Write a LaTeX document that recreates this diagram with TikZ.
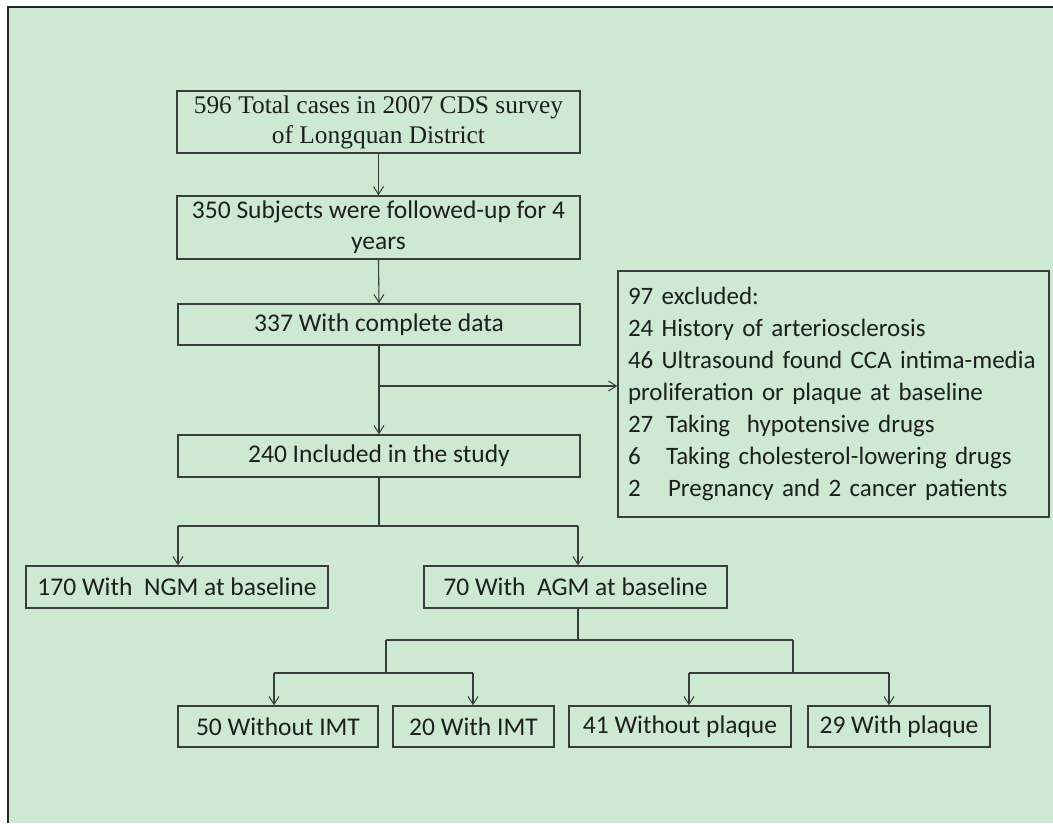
\documentclass[tikz,border=0pt]{standalone}
\usepackage{fontspec}
\setmainfont{Liberation Serif}
\newfontfamily\calib{Carlito}
\usetikzlibrary{arrows.meta}
\definecolor{bggreen}{RGB}{205,233,210}
\definecolor{linegray}{RGB}{60,60,60}
\definecolor{txtgray}{RGB}{30,30,30}
\tikzset{
  box/.style={draw=linegray, line width=1.3pt, rectangle, inner sep=0pt, align=center,
    text=txtgray, font=\calib\fontsize{25.5}{31}\selectfont},
  conn/.style={draw=linegray, line width=1.1pt},
  arr/.style={conn, -{Straight Barb[length=8pt,width=10pt,line width=1pt]}}
}
\begin{document}
\begin{tikzpicture}[x=1pt,y=-1pt]
\useasboundingbox (0,0) rectangle (1053,823);
\fill[white] (0,0) rectangle (1053,823);
\fill[bggreen] (8,7) rectangle (1053,823);
\draw[line width=2pt, black!85] (8,823) -- (8,7) -- (1053,7);

\node[box, minimum width=403pt, minimum height=62pt, font=\rmfamily\fontsize{25.4}{30}\selectfont] (b1) at (378.5,122)
  {596 Total cases in 2007 CDS survey\\of Longquan District};
\node[box, minimum width=403pt, minimum height=63pt] (b2) at (378.5,227.5)
  {350 Subjects were followed-up for 4\\years};
\node[box, minimum width=402pt, minimum height=41pt] (b3) at (379,324.5) {337 With complete data};
\node[box, minimum width=402pt, minimum height=42pt] (b4) at (379,456) {240 Included in the study};

\node[box, minimum width=431pt, minimum height=246pt, text width=411pt, inner xsep=10pt, align=left,
  font=\calib\fontsize{25}{32}\selectfont] (ex) at (833.5,394)
  {97 excluded:\\
   24 History of arteriosclerosis\\
   46 Ultrasound found CCA intima-media\\
   proliferation or plaque at baseline\\
   \makebox[38pt][l]{27}Taking\ \ hypotensive drugs\\
   \makebox[38pt][l]{6}Taking cholesterol-lowering drugs\\
   \makebox[40pt][l]{2}Pregnancy and 2 cancer patients};

\node[box, minimum width=302pt, minimum height=42pt] (ngm) at (177,587) {170 With\ \ NGM at baseline};
\node[box, minimum width=303pt, minimum height=42pt] (agm) at (575.5,587) {70 With\ \ AGM at baseline};

\node[box, minimum width=200pt, minimum height=41pt] (i1) at (278,726.5) {50 Without IMT};
\node[box, minimum width=161pt, minimum height=41pt] (i2) at (473.5,726.5) {20 With IMT};
\node[box, minimum width=222pt, minimum height=41pt] (p1) at (680,726.5) {41 Without plaque};
\node[box, minimum width=182pt, minimum height=41pt] (p2) at (899,726.5) {29 With plaque};

% main column
\draw[arr] (b1.south) -- (b2.north);
\draw[arr] (b2.south) -- (b3.north);
\draw[arr] (b3.south) -- (b4.north);
\coordinate (j1) at (379,386);
\draw[arr] (j1) -- (j1 -| ex.west);

% split to NGM / AGM
\coordinate (j2) at (379,526);
\coordinate (n1) at (178,526);
\coordinate (n2) at (578,526);
\draw[conn] (b4.south) -- (j2);
\draw[conn] (n1) -- (n2);
\draw[arr] (n1) -- (n1 |- ngm.north);
\draw[arr] (n2) -- (n2 |- agm.north);

% split AGM
\coordinate (j3) at (578,640);
\coordinate (l3) at (386,640);
\coordinate (r3) at (793,640);
\draw[conn] (j3 |- agm.south) -- (j3);
\draw[conn] (l3) -- (r3);
\coordinate (lj) at (386,673);
\coordinate (rj) at (793,673);
\draw[conn] (l3) -- (lj);
\draw[conn] (r3) -- (rj);
\coordinate (a1) at (274,673);
\coordinate (a2) at (473,673);
\coordinate (a3) at (689,673);
\coordinate (a4) at (889,673);
\draw[conn] (a1) -- (a2);
\draw[conn] (a3) -- (a4);
\draw[arr] (a1) -- (a1 |- i1.north);
\draw[arr] (a2) -- (a2 |- i2.north);
\draw[arr] (a3) -- (a3 |- p1.north);
\draw[arr] (a4) -- (a4 |- p2.north);
\end{tikzpicture}
\end{document}
